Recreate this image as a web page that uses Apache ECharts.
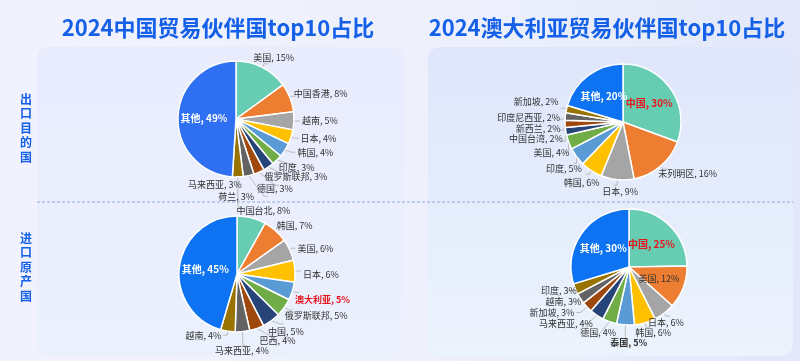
<!DOCTYPE html>
<html><head><meta charset="utf-8">
<script src="https://cdn.jsdelivr.net/npm/echarts@6/dist/echarts.min.js"></script>
<style>html,body{margin:0;padding:0;background:#eef0fc;}#c{width:800px;height:361px;}</style>
</head><body><div id="c"></div>
<script>
// ---- data ----
var titles = ['2024中国贸易伙伴国top10占比', '2024澳大利亚贸易伙伴国top10占比'];
var rowLabels = ['出口目的国', '进口原产国'];

var cnExportNames = ['美国','中国香港','越南','日本','韩国','印度','俄罗斯联邦','德国','荷兰','马来西亚','其他'];
var cnExportValues = [15, 8, 5, 4, 4, 3, 3, 3, 3, 3, 49];

var cnImportNames = ['中国台北','韩国','美国','日本','澳大利亚','俄罗斯联邦','中国','巴西','马来西亚','越南','其他'];
var cnImportValues = [8, 7, 6, 6, 5, 5, 5, 4, 4, 4, 45];

var auExportNames = ['中国','未列明区','日本','韩国','印度','美国','中国台湾','新西兰','印度尼西亚','新加坡','其他'];
var auExportValues = [30, 16, 9, 6, 5, 4, 2, 2, 2, 2, 20];

var auImportNames = ['中国','美国','日本','韩国','泰国','德国','马来西亚','新加坡','越南','印度','其他'];
var auImportValues = [25, 12, 6, 6, 5, 4, 4, 3, 3, 3, 30];

// ---- styling ----
var palette = ['#66ccb2','#ed7d31','#a5a5a5','#ffc000','#5b9bd5','#70ad47','#264478','#9e480e','#636363','#997300','#1270f2'];

// label nudges (pixels) relative to ECharts' default outside-label placement, by slice index
var nudgeCnExport = [[-17,-6],[-4,-3],null,null,null,[-15,4],[-24,2],[-24,3],[-52,0],[-56,-23]];
var nudgeCnImport = [[-22,-3],[-6,-2],null,[0,4],[-6,7],[-10,6],[-18,8],[-15,6],[-34,5],null];
var nudgeAuExport = [null,[-11,4],[27,6],[16,8],[10,5],[5,0],[3,-3],[3,-2],[3,-2],[0,-7]];
var nudgeAuImport = [null,null,[-24,6],[-17,5],[28,-3],[23,-2],[11,0],null,[12,0],[11,0]];

// ---- build ----
var FONT = '"Noto Sans CJK SC", "Noto Sans", sans-serif';
function makeData(names, values, special) {
  return names.map(function (n, i) {
    var d = { name: n, value: values[i], itemStyle: { color: palette[i] } };
    if (special[n]) d.label = special[n];
    return d;
  });
}
var insideWhite = { position: 'inside', color: '#fff', fontWeight: 'bold', fontSize: 10 };
var insideRed = { position: 'inside', color: '#e8141c', fontWeight: 'bold', fontSize: 10 };

function pie(center, names, values, special, otherColor, nudge) {
  var data = makeData(names, values, special);
  data[data.length - 1].itemStyle.color = otherColor;
  return {
    type: 'pie', center: center, radius: [0, 58], startAngle: 90, clockwise: true,
    animation: false,
    itemStyle: { borderColor: '#fff', borderWidth: 1.5 },
    label: { formatter: '{b}, {c}%', fontSize: 9, color: '#333', fontFamily: FONT, distanceToLabelLine: 2 },
    labelLine: { length: 4, length2: 4, lineStyle: { color: '#bbb', width: 1 } },
    labelLayout: function (p) {
      var o = nudge[p.dataIndex];
      if (!o) return { hideOverlap: false };
      return { dx: o[0], dy: o[1], hideOverlap: false };
    },
    data: data
  };
}

var series = [
  pie([236, 119], cnExportNames, cnExportValues, { '其他': insideWhite }, '#2f6ff2', nudgeCnExport),
  pie([237, 274], cnImportNames, cnImportValues, { '其他': insideWhite, '澳大利亚': { color: '#e8141c', fontWeight: 'bold' } }, '#0d73f2', nudgeCnImport),
  pie([623, 122], auExportNames, auExportValues, { '其他': insideWhite, '中国': insideRed }, '#0d73f2', nudgeAuExport),
  pie([629, 267], auImportNames, auImportValues, { '其他': insideWhite, '中国': insideRed, '美国': { position: 'inside', color: '#333', fontSize: 9 }, '泰国': { fontWeight: 'bold' } }, '#0d73f2', nudgeAuImport)
];

var graphic = [
  { type: 'rect', z: -10, silent: true, shape: { x: 0, y: 0, width: 800, height: 361 },
    style: { fill: new echarts.graphic.LinearGradient(0, 0, 1, 0, [{ offset: 0, color: '#f1f2fd' }, { offset: 0.6, color: '#edf0fc' }, { offset: 1, color: '#e2e8fa' }]) } },
  { type: 'rect', z: -9, silent: true, shape: { x: 37, y: 47, width: 367, height: 309, r: 12 },
    style: { fill: new echarts.graphic.LinearGradient(0, 0, 0, 1, [{ offset: 0, color: '#e9ecfd' }, { offset: 1, color: '#ebf0fd' }]) } },
  { type: 'rect', z: -9, silent: true, shape: { x: 428, y: 47, width: 365, height: 309, r: 12 },
    style: { fill: new echarts.graphic.LinearGradient(0, 0, 0, 1, [{ offset: 0, color: '#dfe6fb' }, { offset: 1, color: '#ebf3fd' }]) } },
  { type: 'line', z: -5, silent: true, shape: { x1: 37, y1: 202, x2: 793, y2: 202 },
    style: { stroke: '#93a9dc', lineWidth: 1, lineDash: [3, 2] } },
  { type: 'text', left: 20, top: 92, style: { text: rowLabels[0].split('').join('\n'), fill: '#1560e8', font: 'bold 12px ' + FONT, lineHeight: 14.5, align: 'center' } },
  { type: 'text', left: 20, top: 231, style: { text: rowLabels[1].split('').join('\n'), fill: '#1560e8', font: 'bold 12px ' + FONT, lineHeight: 14.5, align: 'center' } }
];

var chart = echarts.init(document.getElementById('c'), null, { renderer: 'canvas' });
chart.setOption({
  animation: false,
  title: [
    { text: titles[0], left: 213, top: 12, textAlign: 'center', textStyle: { color: '#1560e8', fontSize: 22, fontWeight: 'bold', fontFamily: FONT } },
    { text: titles[1], left: 602, top: 12, textAlign: 'center', textStyle: { color: '#1560e8', fontSize: 22, fontWeight: 'bold', fontFamily: FONT } }
  ],
  graphic: graphic,
  series: series
});
</script></body></html>
